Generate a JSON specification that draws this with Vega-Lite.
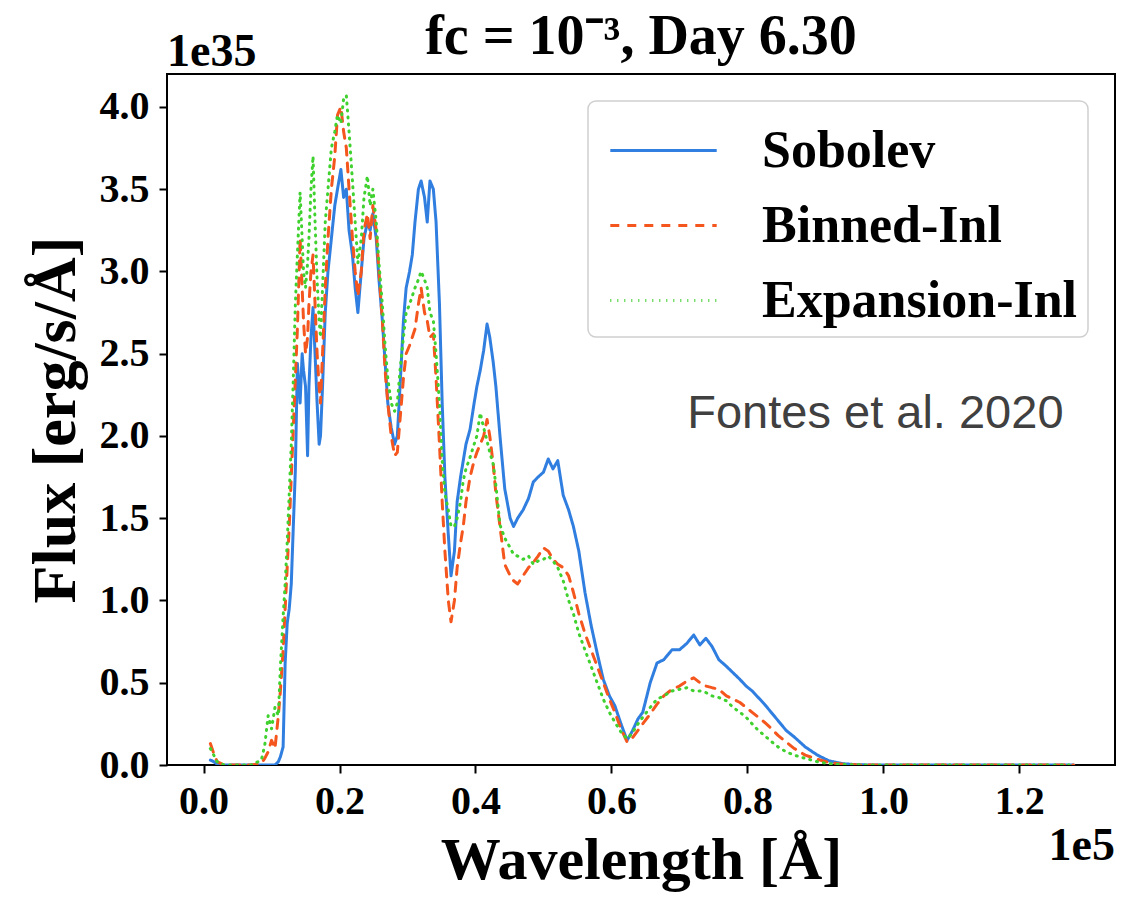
{
 "$schema": "https://vega.github.io/schema/vega-lite/v6.json",
 "width": 948, "height": 691,
 "autosize": {"type": "none"},
 "padding": {"left": 167, "top": 74, "right": 28, "bottom": 133},
 "background": "white",
 "title": {"text": "fc = 10⁻³, Day 6.30", "font": "Liberation Serif", "fontWeight": "bold", "fontSize": 56, "color": "black", "anchor": "middle", "frame": "group", "baseline": "alphabetic", "offset": -81},
 "config": {
  "view": {"stroke": "black", "strokeWidth": 2},
  "axis": {"grid": false, "domain": false, "tickColor": "black", "tickWidth": 2, "tickSize": 8, "labelFont": "Liberation Serif", "labelFontWeight": "bold", "labelFontSize": 40, "labelColor": "black", "titleFont": "Liberation Serif", "titleFontWeight": "bold", "titleColor": "black"},
  "legend": {"orient": "top-right", "offset": 27, "padding": 10, "fillColor": "white", "strokeColor": "#cfcfcf", "strokeWidth": 1.5, "cornerRadius": 8, "symbolType": "M-1.4,0H1.4", "symbolSize": 5776, "symbolStrokeWidth": 3, "symbolOffset": 26, "labelFont": "Liberation Serif", "labelFontWeight": "bold", "labelFontSize": 52, "labelColor": "black", "labelOffset": 59, "rowPadding": 9, "labelLimit": 0, "labelExpr": "datum.label + '\u00a0'"}
 },
 "layer": [
  {
   "data": {"values": [
    {"w":0.01,"Sobolev":0.03,"Binned-Inl":0.13,"Expansion-Inl":0.1},
    {"w":0.015,"Sobolev":0.02,"Binned-Inl":0.07,"Expansion-Inl":0.06},
    {"w":0.02,"Sobolev":0.005,"Binned-Inl":0.02,"Expansion-Inl":0.02},
    {"w":0.03,"Sobolev":0,"Binned-Inl":0,"Expansion-Inl":0},
    {"w":0.05,"Sobolev":0,"Binned-Inl":0,"Expansion-Inl":0},
    {"w":0.07,"Sobolev":0,"Binned-Inl":0,"Expansion-Inl":0},
    {"w":0.085,"Sobolev":0,"Binned-Inl":0.01,"Expansion-Inl":0.03},
    {"w":0.09,"Sobolev":0,"Binned-Inl":0.04,"Expansion-Inl":0.12},
    {"w":0.095,"Sobolev":0,"Binned-Inl":0.08,"Expansion-Inl":0.3},
    {"w":0.1,"Sobolev":0,"Binned-Inl":0.15,"Expansion-Inl":0.22},
    {"w":0.105,"Sobolev":0,"Binned-Inl":0.1,"Expansion-Inl":0.35},
    {"w":0.11,"Sobolev":0.02,"Binned-Inl":0.3,"Expansion-Inl":0.3},
    {"w":0.113,"Sobolev":0.05,"Binned-Inl":0.45,"Expansion-Inl":0.6},
    {"w":0.117,"Sobolev":0.11,"Binned-Inl":0.7,"Expansion-Inl":0.9},
    {"w":0.12,"Sobolev":0.62,"Binned-Inl":0.95,"Expansion-Inl":1.1},
    {"w":0.123,"Sobolev":0.86,"Binned-Inl":1.2,"Expansion-Inl":1.35},
    {"w":0.126,"Sobolev":0.95,"Binned-Inl":1.45,"Expansion-Inl":1.65},
    {"w":0.129,"Sobolev":1.1,"Binned-Inl":1.75,"Expansion-Inl":1.95},
    {"w":0.132,"Sobolev":1.45,"Binned-Inl":2.05,"Expansion-Inl":2.35},
    {"w":0.135,"Sobolev":1.79,"Binned-Inl":2.35,"Expansion-Inl":2.8},
    {"w":0.138,"Sobolev":2.44,"Binned-Inl":2.65,"Expansion-Inl":3.1},
    {"w":0.142,"Sobolev":2.2,"Binned-Inl":3.2,"Expansion-Inl":3.48},
    {"w":0.145,"Sobolev":2.5,"Binned-Inl":2.9,"Expansion-Inl":3.2},
    {"w":0.147,"Sobolev":2.4,"Binned-Inl":2.7,"Expansion-Inl":3.0},
    {"w":0.15,"Sobolev":2.3,"Binned-Inl":2.5,"Expansion-Inl":2.9},
    {"w":0.153,"Sobolev":1.88,"Binned-Inl":2.6,"Expansion-Inl":3.05},
    {"w":0.155,"Sobolev":2.3,"Binned-Inl":2.8,"Expansion-Inl":3.2},
    {"w":0.158,"Sobolev":2.6,"Binned-Inl":3.0,"Expansion-Inl":3.5},
    {"w":0.161,"Sobolev":2.78,"Binned-Inl":3.1,"Expansion-Inl":3.7},
    {"w":0.164,"Sobolev":2.5,"Binned-Inl":2.8,"Expansion-Inl":3.3},
    {"w":0.167,"Sobolev":2.2,"Binned-Inl":2.5,"Expansion-Inl":2.95},
    {"w":0.17,"Sobolev":1.95,"Binned-Inl":2.3,"Expansion-Inl":2.7},
    {"w":0.172,"Sobolev":2.0,"Binned-Inl":2.2,"Expansion-Inl":2.6},
    {"w":0.175,"Sobolev":2.3,"Binned-Inl":2.5,"Expansion-Inl":2.9},
    {"w":0.179,"Sobolev":2.75,"Binned-Inl":2.9,"Expansion-Inl":3.3},
    {"w":0.183,"Sobolev":3.0,"Binned-Inl":3.2,"Expansion-Inl":3.5},
    {"w":0.188,"Sobolev":3.2,"Binned-Inl":3.5,"Expansion-Inl":3.75},
    {"w":0.193,"Sobolev":3.4,"Binned-Inl":3.7,"Expansion-Inl":3.85},
    {"w":0.197,"Sobolev":3.5,"Binned-Inl":3.95,"Expansion-Inl":3.95},
    {"w":0.202,"Sobolev":3.62,"Binned-Inl":4.0,"Expansion-Inl":3.9},
    {"w":0.206,"Sobolev":3.45,"Binned-Inl":3.85,"Expansion-Inl":4.05},
    {"w":0.21,"Sobolev":3.5,"Binned-Inl":3.75,"Expansion-Inl":4.07},
    {"w":0.214,"Sobolev":3.25,"Binned-Inl":3.5,"Expansion-Inl":3.85},
    {"w":0.219,"Sobolev":3.1,"Binned-Inl":3.2,"Expansion-Inl":3.55},
    {"w":0.223,"Sobolev":2.9,"Binned-Inl":3.0,"Expansion-Inl":3.3},
    {"w":0.227,"Sobolev":2.75,"Binned-Inl":2.85,"Expansion-Inl":3.05},
    {"w":0.232,"Sobolev":3.0,"Binned-Inl":3.0,"Expansion-Inl":3.2},
    {"w":0.236,"Sobolev":3.2,"Binned-Inl":3.25,"Expansion-Inl":3.45},
    {"w":0.241,"Sobolev":3.3,"Binned-Inl":3.35,"Expansion-Inl":3.58},
    {"w":0.245,"Sobolev":3.25,"Binned-Inl":3.2,"Expansion-Inl":3.4},
    {"w":0.249,"Sobolev":3.35,"Binned-Inl":3.4,"Expansion-Inl":3.5},
    {"w":0.254,"Sobolev":3.2,"Binned-Inl":3.25,"Expansion-Inl":3.3},
    {"w":0.258,"Sobolev":2.95,"Binned-Inl":3.0,"Expansion-Inl":3.05},
    {"w":0.263,"Sobolev":2.7,"Binned-Inl":2.7,"Expansion-Inl":2.8},
    {"w":0.267,"Sobolev":2.45,"Binned-Inl":2.4,"Expansion-Inl":2.55},
    {"w":0.271,"Sobolev":2.2,"Binned-Inl":2.2,"Expansion-Inl":2.35},
    {"w":0.276,"Sobolev":2.05,"Binned-Inl":2.0,"Expansion-Inl":2.2},
    {"w":0.281,"Sobolev":1.95,"Binned-Inl":1.88,"Expansion-Inl":2.15},
    {"w":0.285,"Sobolev":2.0,"Binned-Inl":1.9,"Expansion-Inl":2.2},
    {"w":0.289,"Sobolev":2.3,"Binned-Inl":2.1,"Expansion-Inl":2.4},
    {"w":0.294,"Sobolev":2.7,"Binned-Inl":2.35,"Expansion-Inl":2.6},
    {"w":0.298,"Sobolev":2.9,"Binned-Inl":2.5,"Expansion-Inl":2.75},
    {"w":0.303,"Sobolev":3.0,"Binned-Inl":2.55,"Expansion-Inl":2.8},
    {"w":0.307,"Sobolev":3.1,"Binned-Inl":2.6,"Expansion-Inl":2.85},
    {"w":0.311,"Sobolev":3.3,"Binned-Inl":2.65,"Expansion-Inl":2.9},
    {"w":0.316,"Sobolev":3.5,"Binned-Inl":2.8,"Expansion-Inl":2.95},
    {"w":0.32,"Sobolev":3.55,"Binned-Inl":2.9,"Expansion-Inl":3.0},
    {"w":0.325,"Sobolev":3.45,"Binned-Inl":2.75,"Expansion-Inl":2.95},
    {"w":0.329,"Sobolev":3.3,"Binned-Inl":2.7,"Expansion-Inl":2.9},
    {"w":0.333,"Sobolev":3.55,"Binned-Inl":2.6,"Expansion-Inl":2.75},
    {"w":0.338,"Sobolev":3.5,"Binned-Inl":2.62,"Expansion-Inl":2.7},
    {"w":0.342,"Sobolev":3.3,"Binned-Inl":2.35,"Expansion-Inl":2.5},
    {"w":0.347,"Sobolev":2.8,"Binned-Inl":1.95,"Expansion-Inl":2.2},
    {"w":0.351,"Sobolev":2.2,"Binned-Inl":1.6,"Expansion-Inl":1.85},
    {"w":0.355,"Sobolev":1.75,"Binned-Inl":1.3,"Expansion-Inl":1.65},
    {"w":0.36,"Sobolev":1.4,"Binned-Inl":1.0,"Expansion-Inl":1.55},
    {"w":0.364,"Sobolev":1.15,"Binned-Inl":0.87,"Expansion-Inl":1.45},
    {"w":0.369,"Sobolev":1.3,"Binned-Inl":1.0,"Expansion-Inl":1.45},
    {"w":0.373,"Sobolev":1.6,"Binned-Inl":1.2,"Expansion-Inl":1.5},
    {"w":0.378,"Sobolev":1.75,"Binned-Inl":1.35,"Expansion-Inl":1.6},
    {"w":0.382,"Sobolev":1.85,"Binned-Inl":1.45,"Expansion-Inl":1.73},
    {"w":0.386,"Sobolev":1.95,"Binned-Inl":1.6,"Expansion-Inl":1.8},
    {"w":0.392,"Sobolev":2.04,"Binned-Inl":1.75,"Expansion-Inl":1.87},
    {"w":0.398,"Sobolev":2.2,"Binned-Inl":1.85,"Expansion-Inl":1.95},
    {"w":0.402,"Sobolev":2.3,"Binned-Inl":1.9,"Expansion-Inl":2.0},
    {"w":0.407,"Sobolev":2.4,"Binned-Inl":1.95,"Expansion-Inl":2.14},
    {"w":0.412,"Sobolev":2.52,"Binned-Inl":2.0,"Expansion-Inl":2.05},
    {"w":0.417,"Sobolev":2.68,"Binned-Inl":2.1,"Expansion-Inl":1.97},
    {"w":0.421,"Sobolev":2.6,"Binned-Inl":2.0,"Expansion-Inl":1.9},
    {"w":0.426,"Sobolev":2.45,"Binned-Inl":1.83,"Expansion-Inl":1.83},
    {"w":0.43,"Sobolev":2.3,"Binned-Inl":1.65,"Expansion-Inl":1.7},
    {"w":0.436,"Sobolev":2.0,"Binned-Inl":1.45,"Expansion-Inl":1.46},
    {"w":0.443,"Sobolev":1.68,"Binned-Inl":1.22,"Expansion-Inl":1.38},
    {"w":0.451,"Sobolev":1.5,"Binned-Inl":1.15,"Expansion-Inl":1.32},
    {"w":0.456,"Sobolev":1.45,"Binned-Inl":1.12,"Expansion-Inl":1.28},
    {"w":0.462,"Sobolev":1.5,"Binned-Inl":1.1,"Expansion-Inl":1.27},
    {"w":0.47,"Sobolev":1.55,"Binned-Inl":1.15,"Expansion-Inl":1.25},
    {"w":0.478,"Sobolev":1.62,"Binned-Inl":1.2,"Expansion-Inl":1.27},
    {"w":0.485,"Sobolev":1.72,"Binned-Inl":1.23,"Expansion-Inl":1.22},
    {"w":0.492,"Sobolev":1.75,"Binned-Inl":1.27,"Expansion-Inl":1.24},
    {"w":0.5,"Sobolev":1.78,"Binned-Inl":1.32,"Expansion-Inl":1.25},
    {"w":0.507,"Sobolev":1.86,"Binned-Inl":1.3,"Expansion-Inl":1.27},
    {"w":0.514,"Sobolev":1.8,"Binned-Inl":1.25,"Expansion-Inl":1.24},
    {"w":0.521,"Sobolev":1.85,"Binned-Inl":1.22,"Expansion-Inl":1.2},
    {"w":0.529,"Sobolev":1.64,"Binned-Inl":1.2,"Expansion-Inl":1.12},
    {"w":0.537,"Sobolev":1.55,"Binned-Inl":1.15,"Expansion-Inl":1.0},
    {"w":0.544,"Sobolev":1.45,"Binned-Inl":1.05,"Expansion-Inl":0.92},
    {"w":0.552,"Sobolev":1.3,"Binned-Inl":0.92,"Expansion-Inl":0.8},
    {"w":0.561,"Sobolev":1.05,"Binned-Inl":0.8,"Expansion-Inl":0.7},
    {"w":0.57,"Sobolev":0.85,"Binned-Inl":0.7,"Expansion-Inl":0.6},
    {"w":0.579,"Sobolev":0.68,"Binned-Inl":0.6,"Expansion-Inl":0.5},
    {"w":0.588,"Sobolev":0.52,"Binned-Inl":0.5,"Expansion-Inl":0.4},
    {"w":0.597,"Sobolev":0.42,"Binned-Inl":0.4,"Expansion-Inl":0.32},
    {"w":0.605,"Sobolev":0.36,"Binned-Inl":0.32,"Expansion-Inl":0.26},
    {"w":0.614,"Sobolev":0.25,"Binned-Inl":0.22,"Expansion-Inl":0.2},
    {"w":0.623,"Sobolev":0.15,"Binned-Inl":0.14,"Expansion-Inl":0.16},
    {"w":0.63,"Sobolev":0.2,"Binned-Inl":0.16,"Expansion-Inl":0.19},
    {"w":0.639,"Sobolev":0.28,"Binned-Inl":0.21,"Expansion-Inl":0.25},
    {"w":0.646,"Sobolev":0.32,"Binned-Inl":0.25,"Expansion-Inl":0.29},
    {"w":0.657,"Sobolev":0.5,"Binned-Inl":0.31,"Expansion-Inl":0.35},
    {"w":0.667,"Sobolev":0.62,"Binned-Inl":0.37,"Expansion-Inl":0.4},
    {"w":0.677,"Sobolev":0.64,"Binned-Inl":0.42,"Expansion-Inl":0.42},
    {"w":0.689,"Sobolev":0.7,"Binned-Inl":0.46,"Expansion-Inl":0.45},
    {"w":0.7,"Sobolev":0.7,"Binned-Inl":0.48,"Expansion-Inl":0.46},
    {"w":0.711,"Sobolev":0.74,"Binned-Inl":0.51,"Expansion-Inl":0.47},
    {"w":0.721,"Sobolev":0.79,"Binned-Inl":0.53,"Expansion-Inl":0.45},
    {"w":0.73,"Sobolev":0.73,"Binned-Inl":0.5,"Expansion-Inl":0.45},
    {"w":0.739,"Sobolev":0.77,"Binned-Inl":0.48,"Expansion-Inl":0.44},
    {"w":0.748,"Sobolev":0.72,"Binned-Inl":0.47,"Expansion-Inl":0.42},
    {"w":0.758,"Sobolev":0.64,"Binned-Inl":0.46,"Expansion-Inl":0.41},
    {"w":0.769,"Sobolev":0.6,"Binned-Inl":0.42,"Expansion-Inl":0.39},
    {"w":0.779,"Sobolev":0.56,"Binned-Inl":0.4,"Expansion-Inl":0.35},
    {"w":0.789,"Sobolev":0.52,"Binned-Inl":0.38,"Expansion-Inl":0.32},
    {"w":0.798,"Sobolev":0.48,"Binned-Inl":0.35,"Expansion-Inl":0.29},
    {"w":0.807,"Sobolev":0.45,"Binned-Inl":0.32,"Expansion-Inl":0.25},
    {"w":0.816,"Sobolev":0.41,"Binned-Inl":0.29,"Expansion-Inl":0.21},
    {"w":0.825,"Sobolev":0.37,"Binned-Inl":0.26,"Expansion-Inl":0.18},
    {"w":0.833,"Sobolev":0.33,"Binned-Inl":0.23,"Expansion-Inl":0.15},
    {"w":0.845,"Sobolev":0.27,"Binned-Inl":0.18,"Expansion-Inl":0.11},
    {"w":0.857,"Sobolev":0.21,"Binned-Inl":0.14,"Expansion-Inl":0.08},
    {"w":0.869,"Sobolev":0.17,"Binned-Inl":0.1,"Expansion-Inl":0.06},
    {"w":0.885,"Sobolev":0.11,"Binned-Inl":0.06,"Expansion-Inl":0.04},
    {"w":0.903,"Sobolev":0.06,"Binned-Inl":0.035,"Expansion-Inl":0.02},
    {"w":0.92,"Sobolev":0.025,"Binned-Inl":0.015,"Expansion-Inl":0.008},
    {"w":0.94,"Sobolev":0.008,"Binned-Inl":0.005,"Expansion-Inl":0.003},
    {"w":0.96,"Sobolev":0.002,"Binned-Inl":0.001,"Expansion-Inl":0.001},
    {"w":0.98,"Sobolev":0,"Binned-Inl":0,"Expansion-Inl":0},
    {"w":1.0,"Sobolev":0,"Binned-Inl":0,"Expansion-Inl":0},
    {"w":1.05,"Sobolev":0,"Binned-Inl":0,"Expansion-Inl":0},
    {"w":1.1,"Sobolev":0,"Binned-Inl":0,"Expansion-Inl":0},
    {"w":1.15,"Sobolev":0,"Binned-Inl":0,"Expansion-Inl":0},
    {"w":1.2,"Sobolev":0,"Binned-Inl":0,"Expansion-Inl":0},
    {"w":1.25,"Sobolev":0,"Binned-Inl":0,"Expansion-Inl":0},
    {"w":1.28,"Sobolev":0,"Binned-Inl":0,"Expansion-Inl":0}
   ]},
   "transform": [{"fold": ["Sobolev", "Binned-Inl", "Expansion-Inl"], "as": ["s", "f"]}],
   "mark": {"type": "line", "strokeWidth": 3, "clip": true, "strokeCap": "round", "strokeJoin": "round"},
   "encoding": {
    "x": {"field": "w", "type": "quantitative", "scale": {"domain": [-0.0538, 1.3407], "nice": false, "zero": false},
          "axis": {"values": [0, 0.2, 0.4, 0.6, 0.8, 1.0, 1.2], "format": ".1f", "title": "Wavelength [Å]", "titleFontSize": 60, "labelPadding": 8, "titlePadding": 10}},
    "y": {"field": "f", "type": "quantitative", "scale": {"domain": [0, 4.2], "nice": false},
          "axis": {"values": [0, 0.5, 1.0, 1.5, 2.0, 2.5, 3.0, 3.5, 4.0], "format": ".1f", "title": "Flux [erg/s/Å]", "titleFontSize": 62, "labelPadding": 10, "titlePadding": 12}},
    "color": {"field": "s", "type": "nominal", "scale": {"domain": ["Sobolev", "Binned-Inl", "Expansion-Inl"], "range": ["#2f7ee0", "#f4561e", "#3fd12e"]}, "legend": {"title": null}},
    "strokeDash": {"field": "s", "type": "nominal", "scale": {"domain": ["Sobolev", "Binned-Inl", "Expansion-Inl"], "range": [[1, 0], [9, 8], [1, 6]]}, "legend": {"title": null}}
   }
  },
  {
   "data": {"values": [{"t": "1e35"}]},
   "mark": {"type": "text", "align": "left", "baseline": "alphabetic", "dy": -8, "font": "Liberation Serif", "fontWeight": "bold", "fontSize": 46, "color": "black"},
   "encoding": {"x": {"datum": -0.0538}, "y": {"datum": 4.2}, "text": {"field": "t"}}
  },
  {
   "data": {"values": [{"t": "1e5"}]},
   "mark": {"type": "text", "align": "right", "baseline": "alphabetic", "dy": 95, "font": "Liberation Serif", "fontWeight": "bold", "fontSize": 46, "color": "black"},
   "encoding": {"x": {"datum": 1.3407}, "y": {"datum": 0}, "text": {"field": "t"}}
  },
  {
   "data": {"values": [{"t": "Fontes et al. 2020"}]},
   "mark": {"type": "text", "align": "right", "baseline": "alphabetic", "font": "Liberation Sans", "fontSize": 47, "color": "#404040"},
   "encoding": {"x": {"datum": 1.265}, "y": {"datum": 2.05}, "text": {"field": "t"}}
  }
 ]
}
